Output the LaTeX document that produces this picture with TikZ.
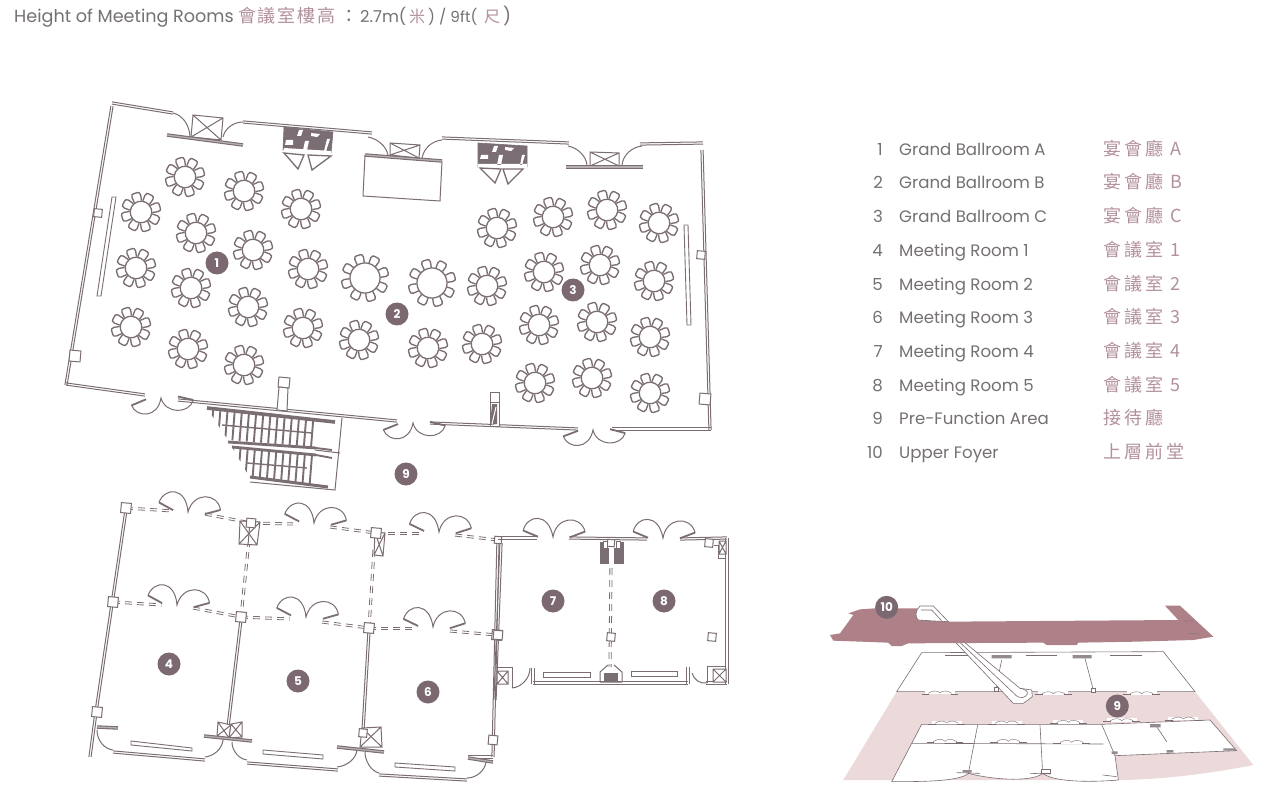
\documentclass[tikz,border=0pt]{standalone}
\usepackage{fontspec}
\setmainfont{Poppins}
\newfontfamily\cjk[LetterSpace=17]{Noto Sans CJK TC}
\newfontfamily\cjkt[LetterSpace=10]{Noto Sans CJK TC}
\usetikzlibrary{calc}
\definecolor{wallc}{HTML}{7A6D73}
\definecolor{badgec}{HTML}{7B6870}
\definecolor{txtc}{HTML}{757073}
\definecolor{pinkt}{HTML}{B3919A}
\definecolor{strip}{HTML}{AE8189}
\definecolor{floorc}{HTML}{ECD9D9}
\tikzset{
  thinwall/.style={draw=wallc,line width=1pt},
  beam/.style={draw=wallc,line width=1.1pt,double=wallc!55,double distance=1.3pt},
  panel/.style={draw=wallc,line width=.9pt,fill=white},
  dashw/.style={draw=wallc,line width=.8pt,dash pattern=on 7pt off 5pt},
  colbox/.style={draw=wallc,line width=1pt,fill=white},
  darkfill/.style={fill=wallc,draw=wallc,line width=.6pt},
  badge/.style={circle,fill=badgec,text=white,minimum size=23pt,inner sep=0pt,font=\fontsize{12}{12}\selectfont\bfseries},
  ltxt/.style={anchor=base west,inner sep=0pt,text=txtc,font=\fontsize{16.6}{18}\selectfont},
  ttxt/.style={anchor=base west,inner sep=0pt,text=txtc,font=\fontsize{17.6}{18}\selectfont},
  lnum/.style={anchor=base east,inner sep=0pt,text=txtc,font=\fontsize{16.6}{18}\selectfont},
  lcjk/.style={anchor=base west,inner sep=0pt,text=pinkt,font=\fontsize{18}{18}\selectfont},
  thinz/.style={draw=wallc,line width=.6pt},
}
% wall: two parallel lines between two points
\newcommand\wl[3][thinwall]{%
  \draw[#1] ($(#2)!1.1pt!90:(#3)$)--($(#3)!1.1pt!-90:(#2)$);
  \draw[#1] ($(#2)!1.1pt!-90:(#3)$)--($(#3)!1.1pt!90:(#2)$);}
% round table with eight chairs: x,y,table radius,outer radius
\newcommand\rtable[4]{%
  \begin{scope}[shift={(#1,#2)},rotate=-6]
    \foreach \a in {22.5,67.5,...,360}{
      \begin{scope}[rotate=\a]
        \draw[thinwall,line width=1.35pt] (#3,-3.7)--(#4-3,-4.5) .. controls (#4-.8,-5.1) and (#4+.5,-3.2) .. (#4+.1,0) .. controls (#4+.5,3.2) and (#4-.8,5.1) .. (#4-3,4.5)--(#3,3.7);
      \end{scope}}
    \draw[thinwall,line width=1.3pt] (0,0) circle (#3);
  \end{scope}}
% pair of swing doors, cusp at x,y: angle, vertical scale
\newcommand\ddoor[4]{%
  \begin{scope}[shift={(#1,#2)},rotate=#3,yscale=#4]
    \draw[thinwall] (-30,-6) .. controls (-26,-22) and (-5,-25) .. (0,0) .. controls (3,-21) and (27,-23) .. (32,-6);
    \draw[thinwall,line width=1.8pt] (-30,-6)--(-15,0) (32,-6)--(17,0);
  \end{scope}}
% a box with a cross
\newcommand\xbox[4]{%
  \draw[colbox] (#1) -- (#2) -- (#3) -- (#4) -- cycle (#1) -- (#3) (#2) -- (#4);}
\newcommand\col[3]{\draw[colbox,rotate around={-5:(#1,#2)}] (#1-#3,#2-#3) rectangle (#1+#3,#2+#3);}
\begin{document}
\begin{tikzpicture}[x=1pt,y=-1pt]
\useasboundingbox (0,0) rectangle (1280,794);
\fill[white] (0,0) rectangle (1280,794);

% ------ title
\node[ttxt] (title) at (14,23) {Height of Meeting Rooms};
\node[lcjk] (titlecjk) at (238,23) {\cjkt 會議室樓高};
\node[ttxt] (colon) at (340,23) {\cjkt ：};
\node[ttxt,font=\fontsize{16.4}{18}\selectfont] (hm) at (360,23) {2.7m(};
\node[lcjk,font=\fontsize{16}{18}\selectfont] (mi) at (409,23) {\cjk 米};
\node[ttxt,font=\fontsize{15.2}{18}\selectfont] (hft) at (428,23) {) / 9ft(};
\node[lcjk,font=\fontsize{16}{18}\selectfont] (chi) at (484,23) {\cjk 尺};
\node[ttxt] (close) at (503,23) {)};

% ------ legend
\foreach \n/\y/\t/\c in {1/155.5/Grand Ballroom A/宴會廳 A,2/189/Grand Ballroom B/宴會廳 B,3/222.5/Grand Ballroom C/宴會廳 C,4/256.5/Meeting Room 1/會議室 1,5/290.5/Meeting Room 2/會議室 2,6/323.5/Meeting Room 3/會議室 3,7/357.5/Meeting Room 4/會議室 4,8/391.5/Meeting Room 5/會議室 5,9/424.5/Pre-Function Area/接待廳,10/458.5/Upper Foyer/上層前堂}{
  \node[lnum] (ln\n) at (883,\y) {\n};
  \node[ltxt] (lt\n) at (899,\y) {\t};
  \node[lcjk] (lc\n) at (1103,\y) {\cjk \c};
}

% ------ grand ballroom: outer walls
\wl{112,103}{173,113}
\wl{112,106}{66,385}
\wl{66,384}{145,395}
\wl{243,122}{372,133}
\wl{442,138}{569,143}
\wl{640,144}{703,143}
\wl{702,150}{710,430}
\wl{711,429}{612,429}
\wl{578,429}{430,423}
\wl{178,400}{397,421}
\draw[panel] (112,197)--(116,197)--(101,296)--(97,296)--cycle;
\draw[panel] (684,225)--(688,225)--(691,325)--(687,325)--cycle;
\col{98}{213}{4}\col{75}{356}{5.5}\col{701}{255}{4}\col{705}{399}{5.5}

% door swings along the top
\draw[thinwall] (173,113) .. controls (182,115) and (189,124) .. (190,136);
\xbox{193,115}{223,118}{221,140}{191,137}
\draw[beam] (167,135)--(243,145);
\draw[thinwall] (223,137) .. controls (225,128) and (234,122) .. (243,122);
\draw[thinwall] (368,137) .. controls (378,139) and (386,146) .. (388,155);
\draw[thinwall] (365,155)--(363,196)--(440,201)--(442,161);
\draw[beam] (365,155)--(442,161);
\xbox{390,143}{420,145}{419,158}{390,155}
\draw[thinwall] (422,158) .. controls (424,148) and (432,141) .. (442,140);
\draw[thinwall] (568,146) .. controls (578,148) and (586,156) .. (587,165);
\xbox{590,152}{619,153}{619,166}{590,166}
\draw[beam] (566,167)--(643,167);
\draw[thinwall] (622,165) .. controls (623,155) and (632,147) .. (642,146);

% lift lobbies
\draw[darkfill] (284,127)--(333,132)--(331,153)--(283,150)--cycle;
\fill[white] (286,140)--(293,140)--(293,145)--(285,145)--cycle (299,130)--(303,130)--(301,136)--(297,136)--cycle (305,141)--(309,141)--(307,150)--(303,150)--cycle (311,133)--(320,134)--(317,137)--(311,136)--cycle (327,139)--(330,139)--(326,151)--(324,151)--cycle (284,148)--(331,151)--(331,154)--(283,152)--cycle;
\draw[thinwall,line width=1.3pt] (284,153)--(298,169)--(304,155)--cycle (308,155)--(312,170)--(331,156)--cycle;
\draw[darkfill] (478,143)--(527,146)--(527,167)--(478,167)--cycle;
\fill[white] (481,155)--(488,155)--(488,159)--(480,159)--cycle (494,146)--(498,146)--(496,152)--(492,152)--cycle (499,155)--(503,155)--(501,165)--(497,165)--cycle (505,147)--(514,148)--(511,151)--(505,150)--cycle (522,155)--(525,155)--(522,165)--(520,165)--cycle (478,164) rectangle (527,168);
\draw[thinwall,line width=1.3pt] (480,168)--(495,183)--(501,169)--cycle (503,169)--(508,184)--(523,169)--cycle;

% doors along the bottom
\ddoor{161}{398}{5}{-.8}
\ddoor{413}{423}{4}{-.8}
\ddoor{593}{430}{3}{-.8}

% shaft and riser
\draw[colbox] (490,392) rectangle (499,402);
\draw[darkfill,fill=white] (490,402) rectangle (499,426);
\fill[wallc] (492,404)--(497,404)--(497,424)--(490,425)--cycle;
\draw[white,line width=1pt] (492,424)--(496,407);
\draw[colbox] (279,377)--(290,378)--(289,388)--(278,387)--cycle;
\draw[thinwall,fill=white] (279,387)--(288,388)--(287,411)--(277,410)--cycle;

% ------ staircase
\begin{scope}
  \clip (207,408)--(315,420)--(313,447)--(228,440)--cycle;
  \foreach \x in {212,219.2,...,316}
    \draw[wallc,line width=1.9pt] (\x+2,400)--(\x-2,450);
\end{scope}
\begin{scope}
  \clip (232,447)--(316,455)--(312,486)--(250,478)--cycle;
  \foreach \x in {232,239.2,...,316}
    \draw[wallc,line width=1.9pt] (\x+2,440)--(\x-2,490);
\end{scope}
\draw[wallc,line width=1.4pt] (222,425)--(312,433);
\draw[wallc,line width=1.4pt] (247,463)--(307,468);
\draw[wallc,line width=3.6pt] (207,408)--(335,422);
\draw[wallc,line width=2.8pt] (228,442)--(316,448);
\draw[wallc,line width=1.9pt] (316,448)--(332,450);
\draw[wallc,line width=2.8pt] (232,447)--(316,455);
\draw[wallc,line width=1.9pt] (316,455)--(332,458);
\draw[wallc,line width=3pt] (250,477)--(328,487);
\draw[thinwall] (342,418)--(335,490)--(250,482);
\draw[thinwall] (315,450)--(340,453);

% ------ tables
\foreach \x/\y in {185/177,244/191,301/209,141/212,196/233,253/250,308/269,136/268,191/288,248/307,303/328,131/327,188/349,244/365,359/340,487/286,428/348,482/344,497/228,553/217,607/210,659/223,544/272,600/265,654/281,539/325,597/322,650/337,535/383,592/378,650/393}
  {\rtable{\x}{\y}{10.8}{19.5}}
\rtable{365}{278}{15}{23.5}
\rtable{432}{283}{15}{23.5}

% ------ meeting rooms 1-3
\wl{126,510}{96,712}
\wl{96,712}{90,757}
\wl{241,620}{228,727}
\wl{369,631}{362,747}
\wl{498,540}{493,757}
\wl{493,757}{468,757}
\wl[dashw]{126,508}{173,511}
\wl[dashw]{205,514}{251,523}
\wl[dashw]{251,523}{293,524}
\wl[dashw]{330,527}{376,533}
\wl[dashw]{376,533}{422,533}
\wl[dashw]{455,535}{498,540}
\wl[dashw]{113,602}{162,605}
\wl[dashw]{193,608}{241,617}
\wl[dashw]{241,617}{290,619}
\wl[dashw]{322,622}{369,628}
\wl[dashw]{369,628}{417,628}
\wl[dashw]{450,631}{497,635}
\wl[dashw]{249,540}{241,617}
\wl[dashw]{374,550}{369,628}
\ddoor{188}{512}{-7}{1}
\ddoor{314}{523}{-6}{1}
\ddoor{439}{532}{-4}{1}
\ddoor{177}{605}{-7}{1}
\ddoor{306}{617}{-6}{1}
\ddoor{433}{627}{-4}{1}
\xbox{240,521}{260,522}{257,545}{239,544}
\draw[thinwall] (250,522)--(248,545);
\xbox{375,532}{385,533}{383,556}{374,555}
\foreach \x/\y/\s in {126/508/5,113/602/5,97/712/5,251/523/4.5,241/617/5,376/533/5,369/628/5,498/540/3.5,497/635/5,493/740/4.5}{\col{\x}{\y}{\s}}
% room 1 bottom
\draw[beam] (97,727)--(118,728);
\draw[thinwall] (97,730) .. controls (97,740) and (104,749) .. (113,750);
\wl{113,752}{205,760}
\draw[thinwall] (205,757) .. controls (214,756) and (222,749) .. (223,740);
\draw[panel] (131,741)--(192,748)--(192,751)--(131,745)--cycle;
\xbox{218,722}{231,725}{229,738}{217,736}
\xbox{231,724}{242,722}{242,737}{229,738}
\draw[beam] (204,736)--(252,741);
% room 2 bottom
\draw[thinwall] (232,742) .. controls (232,751) and (239,759) .. (247,760);
\wl{247,763}{338,770}
\draw[thinwall] (337,767) .. controls (347,766) and (356,759) .. (357,750);
\draw[panel] (263,750)--(323,755)--(323,759)--(263,754)--cycle;
\xbox{362,728}{381,727}{382,747}{360,747}
\col{363}{733}{4}
\draw[beam] (337,747)--(384,752);
% room 3 bottom
\draw[thinwall] (365,752) .. controls (365,761) and (371,771) .. (379,773);
\wl{379,775}{467,780}
\draw[thinwall] (467,778) .. controls (477,778) and (485,770) .. (486,762);
\draw[panel] (395,763)--(455,767)--(455,771)--(395,767)--cycle;
\draw[beam] (468,758)--(493,762);

% ------ meeting rooms 4-5
\wl{501,543}{495,700}
\wl{498,538}{537,538}
\wl{569,538}{647,539}
\wl{680,539}{727,538}
\wl{727,538}{727,684}
\wl{727,683}{706,683}
\wl{533,668}{533,684}
\wl{533,683}{688,683}
\wl{688,684}{688,667}
\wl[dashw]{611,568}{610,667}
\ddoor{553}{537}{-1}{1}
\ddoor{663}{538}{-1}{1}
\draw[thinwall] (512,688) .. controls (522,687) and (530,678) .. (530,668);
\draw[thinwall] (692,673) .. controls (694,680) and (700,684) .. (707,683);
\xbox{497,671}{508,671}{508,684}{497,684}
\draw[thinwall] (495,667)--(512,667)--(512,688);
\xbox{713,669}{726,669}{726,682}{713,682}
\draw[thinwall] (707,683)--(707,666)--(726,666);
\draw[darkfill] (600,542) rectangle (623,563);
\fill[white] (609,542) rectangle (614,564);
\fill[white] (603,541) rectangle (620,548);
\col{611}{543}{3.5}
\draw[colbox] (603,541) rectangle (607,548) (616,541) rectangle (620,548);
\col{611}{637}{4}\col{712}{637}{4}\col{498}{635}{4.5}\col{709}{543}{4}
\draw[thinwall] (714,545)--(718,545)--(718,558)--(725,558);
\xbox{719,541}{726,541}{726,554}{719,554}
\draw[panel] (543,672) rectangle (590,677);
\draw[panel] (631,671) rectangle (677,676);
\fill[wallc] (604,673) rectangle (618,682);
\draw[thinwall,line width=1pt] (600,682)--(600,672)--(608,665) (622,682)--(622,672)--(614,665) (600,682)--(622,682);

% ------ 3D key plan
\begin{scope}[shift={(820,590)},x=.33333pt,y=-.33333pt]
  \fill[floorc] (230,305)--(1125,305)--(1300,525) .. controls (1150,555) and (1000,570) .. (890,570)--(70,570)--cycle;
  % upper rooms
  \draw[thinz,fill=white] (305,188)--(1030,185)--(1125,305)--(230,305)--cycle;
  \draw[thinz] (545,210)--(527,298) (795,205)--(820,300);
  \foreach \a/\b in {375/470,618/710,870/965}{\draw[thinz,line width=1pt] (\a,197)--(\b,197);}
  \fill[wallc!80] (515,195) rectangle (575,205) (758,195) rectangle (815,205);
  \draw[colbox,line width=.4pt] (522,293) rectangle (534,305) (814,296) rectangle (826,308);
  % lower rooms
  \draw[thinz,fill=white] (305,403)--(845,403)--(1170,390)--(1250,482)--(885,497)--(895,570)
     .. controls (800,578) and (700,575) .. (668,550) .. controls (640,575) and (530,572) .. (445,550) .. controls (420,575) and (300,575) .. (215,575)--cycle;
  \draw[thinz] (845,403)--(885,497) (275,460)--(850,462) (473,405)--(445,550) (660,405)--(668,550) (1010,410)--(1040,455);
  \foreach \x/\y in {380/400,560/400,745/398,905/393,1090/388,375/455,565/455,755/458,360/310,700/312,965/312}{
    \fill[white] (\x-45,\y+3) rectangle (\x+45,\y-8);
    \draw[thinz,line width=.4pt] (\x-35,\y) .. controls (\x-25,\y-9) and (\x-5,\y-9) .. (\x,\y-1) .. controls (\x+5,\y-9) and (\x+25,\y-9) .. (\x+35,\y);
    \draw[wallc,line width=.8pt] (\x-55,\y+2)--(\x-32,\y+2) (\x+32,\y+2)--(\x+55,\y+2);
  }
  \draw[thinz] (410,548)--(480,550) (630,550)--(690,552) (848,555)--(890,560);
  \fill[wallc!80] (990,402) rectangle (1022,412) (428,540) rectangle (455,548) (1040,480) rectangle (1060,488) (875,484) rectangle (893,492) (1210,475) rectangle (1245,482);
  \draw[colbox,line width=.4pt] (665,538) rectangle (690,550);
  % escalator over the upper rooms
  \draw[thinz,fill=white] (425,150)--(600,295)--(635,300)--(637,320)--(610,340)--(580,340)--(400,150)--cycle;
  \draw[thinz] (412,150)--(590,318) .. controls (600,325) and (615,325) .. (622,312) .. controls (625,302) and (612,297) .. (600,295);
  % upper foyer strip
  \fill[strip] (30,135)--(60,130)--(100,75)--(85,70)--(120,58)--(165,55)--(295,55)--(385,95)--(1075,90)--(1035,47)--(1080,47)--(1180,140)--(1120,150)--(950,155)--(775,158)--(770,165)--(680,165)--(670,158)--(265,160)--(245,168)--(215,168)--(205,158)--(40,152)--cycle;
  \draw[thinz,fill=white] (300,48)--(340,48)--(385,95)--(325,92)--(295,90) .. controls (285,85) and (285,60) .. (300,48)--cycle;
  \draw[thinz] (303,60)--(335,60)--(365,92);
  \draw[wallc!60!strip,line width=.6pt] (1090,93)--(1120,93) (1105,130)--(1140,132);
  \node[badge] (b10) at (200,52) {\fontsize{12}{12}\selectfont 10};
  \node[badge] (b9s) at (892,348) {9};
\end{scope}

% ------ number badges
\foreach \n/\x/\y in {1/217/263,2/397/314,3/573/290,4/169/664,5/298/681,6/428/692,7/553/601,8/664/601}{
  \node[badge] (b\n) at (\x,\y) {\n};}
\node[badge] (b9) at (406,474) {9};
\end{tikzpicture}
\end{document}
